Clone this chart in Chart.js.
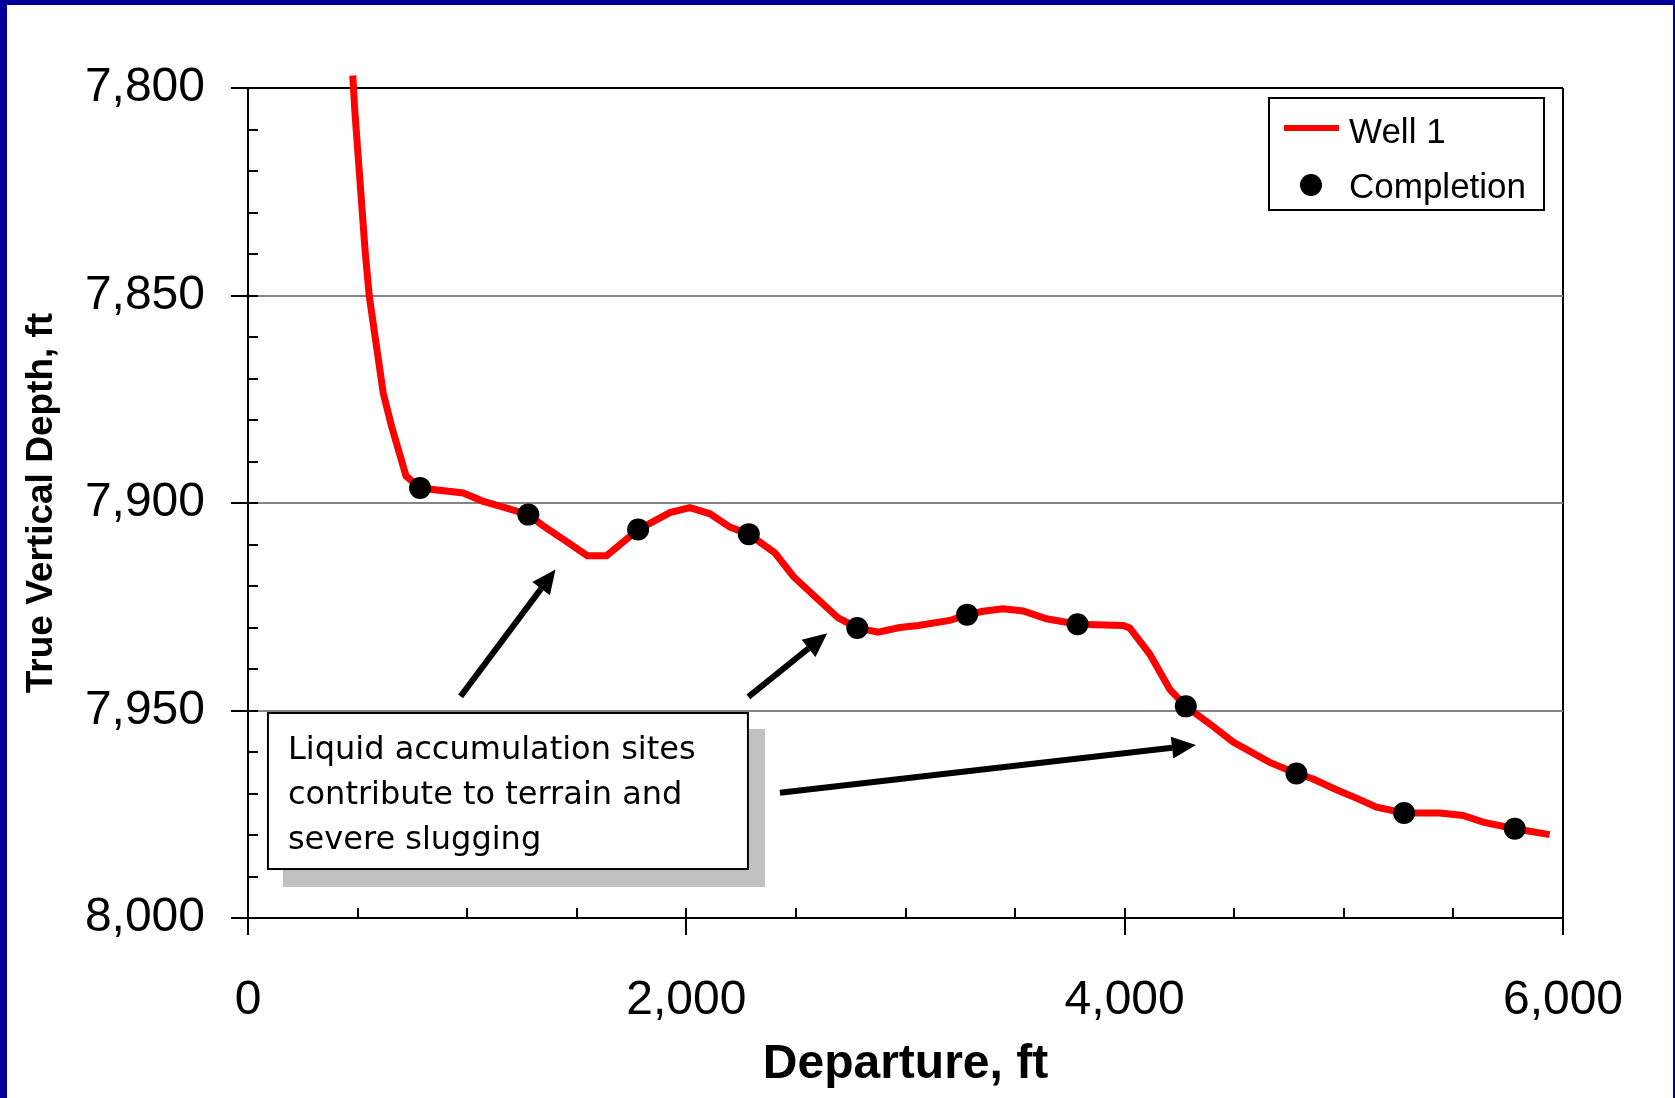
<!DOCTYPE html>
<html>
<head>
<meta charset="utf-8">
<script src="https://cdn.jsdelivr.net/npm/chart.js@4.4.1/dist/chart.umd.min.js"></script>
<style>
html,body{margin:0;padding:0;background:#fff;overflow:hidden;}
#wrap{position:absolute;left:0;top:0;width:1675px;height:1098px;}
canvas{display:block;}
</style>
</head>
<body>
<div id="wrap"><canvas id="chart" width="1675" height="1098"></canvas></div>
<script>
// ---- Data ----
const wellX = [478, 488, 534, 553, 617, 655, 721, 785, 982, 1073, 1165, 1203, 1279, 1347, 1454, 1548, 1636, 1780, 1925, 2016, 2108, 2199, 2285, 2404, 2488, 2594, 2693, 2780, 2875, 2974, 3058, 3202, 3281, 3354, 3445, 3537, 3643, 3785, 3993, 4023, 4114, 4206, 4279, 4395, 4495, 4662, 4784, 4860, 4966, 5065, 5149, 5275, 5438, 5544, 5635, 5780, 5939];
const wellTVD = [7797, 7806, 7839, 7850, 7873.5, 7881.5, 7893.5, 7896.4, 7897.6, 7899.6, 7901, 7901.6, 7902.8, 7905.5, 7909.3, 7912.7, 7912.7, 7906.4, 7902.3, 7901.1, 7902.6, 7905.8, 7907.5, 7912, 7917.7, 7922.9, 7927.7, 7930.1, 7931.1, 7930, 7929.5, 7928.3, 7926.9, 7926.1, 7925.5, 7926, 7927.9, 7929.2, 7929.5, 7930.1, 7936.4, 7944.9, 7949, 7953.5, 7957.6, 7962.5, 7965.2, 7966.5, 7969.1, 7971.3, 7973.3, 7974.7, 7974.7, 7975.3, 7976.9, 7978.5, 7979.9];
const completionX = [785, 1279, 1780, 2285, 2780, 3281, 3785, 4279, 4784, 5275, 5780];
const completionTVD = [7896.4, 7902.8, 7906.4, 7907.5, 7930.1, 7926.9, 7929.2, 7949, 7965.2, 7974.7, 7978.5];
const xTickValues = [0, 2000, 4000, 6000];
const yTickValues = [7800, 7850, 7900, 7950, 8000];
const seriesNames = ['Well 1', 'Completion'];
const xTitle = 'Departure, ft';
const yTitle = 'True Vertical Depth, ft';
const noteLines = ['Liquid accumulation sites', 'contribute to terrain and', 'severe slugging'];
// annotation anchors in data units (departure, TVD)
const noteBox = {x0: 91, y0: 7950.6, x1: 2281, y1: 7988.2};
const noteArrows = [
  {from: [970, 7946.6], to: [1403, 7916.0]},
  {from: [2283, 7946.7], to: [2643, 7931.4]},
  {from: [2427, 7969.8], to: [4325, 7958.3]}
];

// ---- Styles ----
const SANS = '"Liberation Sans", Arial, Helvetica, sans-serif';
const NOTE_FONT = '32px "DejaVu Sans", Verdana, sans-serif';
const BLUE = '#000099';

const framePlugin = {
  id: 'frame',
  beforeDraw(chart) {
    const c = chart.ctx;
    c.save();
    c.fillStyle = '#ffffff';
    c.fillRect(0, 0, chart.width, chart.height);
    c.fillStyle = BLUE;
    c.fillRect(0, 0, 7, chart.height);
    c.fillRect(0, 0, chart.width, 5);
    c.fillRect(chart.width - 2, 0, 2, chart.height);
    c.restore();
  }
};

const minorTicksPlugin = {
  id: 'minorTicks',
  beforeDatasetsDraw(chart) {
    const c = chart.ctx;
    const xs = chart.scales.x, ys = chart.scales.y;
    const a = chart.chartArea;
    c.save();
    c.strokeStyle = '#000';
    c.lineWidth = 2;
    c.beginPath();
    for (let v = 7800; v <= 8000; v += 10) {
      const y = Math.round(ys.getPixelForValue(v));
      c.moveTo(a.left, y); c.lineTo(a.left + 10, y);
    }
    for (let v = 0; v <= 6000; v += 500) {
      const x = Math.round(xs.getPixelForValue(v));
      c.moveTo(x, a.bottom); c.lineTo(x, a.bottom - 10);
    }
    c.stroke();
    c.restore();
  }
};

function drawArrow(c, x0, y0, x1, y1) {
  const ang = Math.atan2(y1 - y0, x1 - x0);
  const headLen = 24, headHalf = 11;
  const bx = x1 - headLen * Math.cos(ang), by = y1 - headLen * Math.sin(ang);
  c.beginPath();
  c.moveTo(x0, y0);
  c.lineTo(bx, by);
  c.lineWidth = 6;
  c.lineCap = 'butt';
  c.stroke();
  c.beginPath();
  c.moveTo(x1, y1);
  c.lineTo(bx + headHalf * Math.sin(ang), by - headHalf * Math.cos(ang));
  c.lineTo(bx - headHalf * Math.sin(ang), by + headHalf * Math.cos(ang));
  c.closePath();
  c.fill();
}

const notePlugin = {
  id: 'note',
  afterDatasetsDraw(chart) {
    const c = chart.ctx;
    const xs = chart.scales.x, ys = chart.scales.y;
    const bx0 = xs.getPixelForValue(noteBox.x0), bx1 = xs.getPixelForValue(noteBox.x1);
    const by0 = ys.getPixelForValue(noteBox.y0), by1 = ys.getPixelForValue(noteBox.y1);
    c.save();
    // shadow
    c.fillStyle = '#c0c0c0';
    c.fillRect(bx0 + 15, by0 + 16, bx1 - bx0 + 2, by1 - by0 + 2);
    // box
    c.fillStyle = '#ffffff';
    c.fillRect(bx0, by0, bx1 - bx0, by1 - by0);
    c.strokeStyle = '#000';
    c.lineWidth = 2;
    c.strokeRect(bx0, by0, bx1 - bx0, by1 - by0);
    // text
    c.fillStyle = '#000';
    c.font = NOTE_FONT;
    c.textAlign = 'left';
    c.textBaseline = 'alphabetic';
    noteLines.forEach((t, i) => c.fillText(t, bx0 + 20, by0 + 46 + i * 45));
    // arrows
    c.fillStyle = '#000';
    c.strokeStyle = '#000';
    noteArrows.forEach(a => {
      drawArrow(c, xs.getPixelForValue(a.from[0]), ys.getPixelForValue(a.from[1]),
                   xs.getPixelForValue(a.to[0]), ys.getPixelForValue(a.to[1]));
    });
    c.restore();
  }
};

const legendPlugin = {
  id: 'customLegend',
  afterDraw(chart) {
    const c = chart.ctx;
    const a = chart.chartArea;
    const lx = a.right - 294, ly = a.top + 10, lw = 275, lh = 112;
    const ds = chart.data.datasets;
    c.save();
    c.fillStyle = '#fff';
    c.fillRect(lx, ly, lw, lh);
    c.strokeStyle = '#000';
    c.lineWidth = 2;
    c.strokeRect(lx, ly, lw, lh);
    // Well 1
    c.strokeStyle = ds[0].borderColor;
    c.lineWidth = 6;
    c.beginPath();
    c.moveTo(lx + 15, ly + 30); c.lineTo(lx + 70, ly + 30);
    c.stroke();
    // Completion
    c.fillStyle = ds[1].pointBackgroundColor;
    c.beginPath();
    c.arc(lx + 42, ly + 87, ds[1].pointRadius, 0, Math.PI * 2);
    c.fill();
    c.fillStyle = '#000';
    c.font = '35px ' + SANS;
    c.textAlign = 'left';
    c.textBaseline = 'alphabetic';
    c.fillText(ds[0].label, lx + 80, ly + 45);
    c.fillText(ds[1].label, lx + 80, ly + 100);
    c.restore();
  }
};

const fmt = v => Number(v).toLocaleString('en-US');

new Chart(document.getElementById('chart').getContext('2d'), {
  type: 'scatter',
  data: {
    datasets: [
      {
        label: seriesNames[0],
        data: wellX.map((x, i) => ({x: x, y: wellTVD[i]})),
        showLine: true,
        borderColor: '#ff0000',
        backgroundColor: '#ff0000',
        borderWidth: 7,
        pointRadius: 0,
        pointHoverRadius: 0,
        tension: 0,
        clip: false,
        order: 2
      },
      {
        label: seriesNames[1],
        data: completionX.map((x, i) => ({x: x, y: completionTVD[i]})),
        showLine: false,
        pointRadius: 11,
        pointHoverRadius: 11,
        pointBackgroundColor: '#000',
        pointBorderColor: '#000',
        pointBorderWidth: 0,
        clip: false,
        order: 1
      }
    ]
  },
  options: {
    responsive: false,
    animation: false,
    devicePixelRatio: 1,
    events: [],
    layout: {padding: {top: 88, right: 112, left: 0, bottom: 0}},
    plugins: {legend: {display: false}, tooltip: {enabled: false}},
    scales: {
      x: {
        type: 'linear', position: 'bottom', min: 0, max: 6000,
        afterFit: s => { s.height = 180; },
        afterBuildTicks: s => { s.ticks = xTickValues.map(v => ({value: v})); },
        ticks: {font: {family: SANS, size: 48}, color: '#000', padding: 37, maxRotation: 0, autoSkip: false, callback: fmt},
        grid: {
          drawOnChartArea: true,
          color: ctx => (ctx.tick && ctx.tick.value === 6000) ? '#000' : 'rgba(0,0,0,0)',
          lineWidth: 2, drawTicks: true, tickLength: 17, tickColor: '#000', tickWidth: 2
        },
        border: {display: true, color: '#000', width: 2},
        title: {display: true, text: xTitle, color: '#000', font: {family: SANS, size: 48, weight: 'bold'}, padding: {top: 0, bottom: 4}}
      },
      y: {
        type: 'linear', position: 'left', reverse: true, min: 7800, max: 8000,
        afterFit: s => { s.width = 248; },
        afterBuildTicks: s => { s.ticks = yTickValues.map(v => ({value: v})); },
        ticks: {font: {family: SANS, size: 48}, color: '#000', padding: 26, autoSkip: false, callback: fmt},
        grid: {
          color: ctx => {
            const v = ctx.tick ? ctx.tick.value : null;
            if (v === 7800) return '#000';
            if (v === 8000) return 'rgba(0,0,0,0)';
            return '#858585';
          },
          lineWidth: 2, drawTicks: true, tickLength: 17, tickColor: '#000', tickWidth: 2
        },
        border: {display: true, color: '#000', width: 2},
        title: {display: true, text: yTitle, color: '#000', font: {family: SANS, size: 37, weight: 'bold'}, padding: {top: 20, bottom: 0}}
      }
    }
  },
  plugins: [framePlugin, minorTicksPlugin, notePlugin, legendPlugin]
});
</script>
</body>
</html>
